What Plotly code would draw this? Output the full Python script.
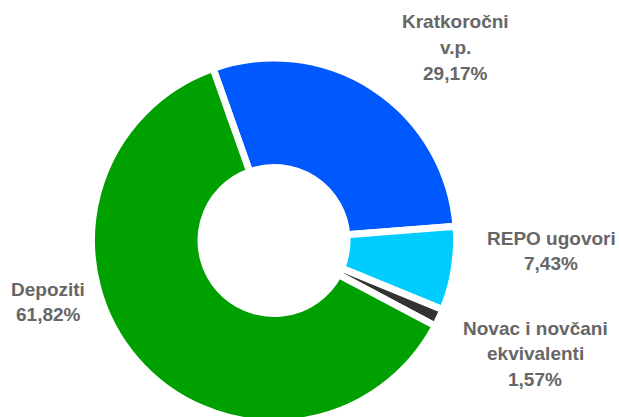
import plotly.graph_objects as go

categories = ["Kratkoročni v.p.", "REPO ugovori", "Novac i novčani ekvivalenti", "Depoziti"]
values = [29.17, 7.43, 1.57, 61.82]
label_lines = [["Kratkoročni", "v.p."], ["REPO ugovori"], ["Novac i novčani", "ekvivalenti"], ["Depoziti"]]
colors = ["#0058FF", "#00CCFF", "#333333", "#00A000"]

W, H = 619, 430  # page shows the top 417 px; the pie runs past the bottom edge
# label centers in pixels (x, y of first line)
label_pos = [(455, 22), (551, 238), (535, 328), (48, 289)]

cx, cy, R = 274, 240.5, 182.5
fig = go.Figure()
fig.add_trace(go.Pie(
    labels=categories,
    values=values,
    sort=False,
    direction="clockwise",
    rotation=-19.5,
    hole=0.4,
    marker=dict(colors=colors, line=dict(color="white", width=7)),
    textinfo="none",
    hoverinfo="label+percent",
    showlegend=False,
    domain=dict(x=[0, 2 * cx / W], y=[(H - (cy + R)) / H, (H - (cy - R)) / H]),
))

for lines, v, (px, py) in zip(label_lines, values, label_pos):
    all_lines = lines + [f"{v:.2f}".replace(".", ",") + "%"]
    for i, ln in enumerate(all_lines):
        fig.add_annotation(
            x=px / W, y=1 - (py + i * 25.5) / H,
            xref="paper", yref="paper",
            text=f"<b>{ln}</b>", showarrow=False,
            xanchor="center", yanchor="middle",
            font=dict(family="Liberation Sans, Arial, sans-serif", size=19, color="#666666"),
        )

fig.update_layout(
    width=W, height=H,
    margin=dict(l=0, r=0, t=0, b=0),
    paper_bgcolor="white",
    plot_bgcolor="white",
)
fig.write_html(
    "out.html",
    config={"displayModeBar": False},
    post_script="document.body.style.margin='0';document.body.style.overflow='hidden';",
)
